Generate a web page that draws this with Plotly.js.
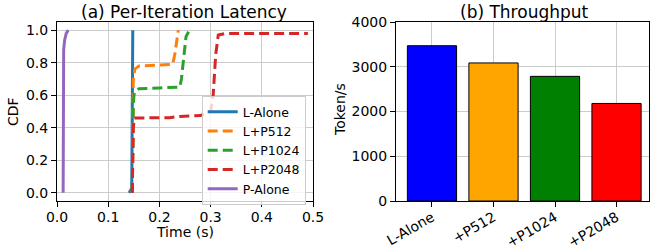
<!DOCTYPE html>
<html>
<head>
<meta charset="utf-8">
<script src="https://cdn.plot.ly/plotly-3.0.1.min.js"></script>
<style>html,body{margin:0;padding:0;background:#fff;}#chart{width:650px;height:250px;}</style>
</head>
<body>
<div id="chart"></div>
<script>
// CDF series (latency in seconds, cumulative fraction)
const seriesNames = ["L-Alone", "L+P512", "L+P1024", "L+P2048", "P-Alone"];
const lAloneX = [0.141, 0.146, 0.147, 0.1475, 0.148];
const lAloneY = [0.0, 0.03, 0.5, 0.97, 1.0];
const lp512X = [0.147, 0.148, 0.149, 0.152, 0.16, 0.2, 0.226, 0.23, 0.234, 0.237];
const lp512Y = [0.0, 0.4, 0.7, 0.76, 0.78, 0.785, 0.79, 0.85, 0.95, 1.0];
const lp1024X = [0.147, 0.148, 0.149, 0.151, 0.16, 0.2, 0.24, 0.243, 0.248, 0.252, 0.257];
const lp1024Y = [0.0, 0.3, 0.55, 0.62, 0.64, 0.645, 0.65, 0.7, 0.85, 0.96, 0.99];
const lp2048X = [0.147, 0.148, 0.149, 0.151, 0.2, 0.22, 0.24, 0.28, 0.3, 0.305, 0.31, 0.315, 0.33, 0.4, 0.49];
const lp2048Y = [0.0, 0.2, 0.4, 0.46, 0.46, 0.462, 0.47, 0.475, 0.5, 0.6, 0.85, 0.97, 0.98, 0.98, 0.98];
const pAloneX = [0.012, 0.012, 0.013, 0.015, 0.018, 0.022];
const pAloneY = [0.0, 0.6, 0.88, 0.94, 0.98, 1.0];

// Throughput bars
const barCategories = ["L-Alone", "+P512", "+P1024", "+P2048"];
const barValues = [3470, 3085, 2785, 2180];
const barColors = ["blue", "orange", "green", "red"];

const lineColors = ["#1f77b4", "#ff7f0e", "#2ca02c", "#d62728", "#9467bd"];
const xs = [lAloneX, lp512X, lp1024X, lp2048X, pAloneX];
const ys = [lAloneY, lp512Y, lp1024Y, lp2048Y, pAloneY];
const dashes = ["solid", "10px,5px", "10px,5px", "10px,5px", "solid"];

const traces = seriesNames.map((n, i) => ({
  type: "scatter", mode: "lines", name: n, x: xs[i], y: ys[i],
  xaxis: "x", yaxis: "y",
  line: {color: lineColors[i], width: 3, dash: dashes[i]}
}));
traces.push({
  type: "bar", x: barCategories, y: barValues, xaxis: "x2", yaxis: "y2",
  width: 0.8, showlegend: false,
  marker: {color: barColors, line: {color: "black", width: 1}}
});

const ax = {
  showline: true, linecolor: "black", linewidth: 1, mirror: true,
  ticks: "outside", ticklen: 5, tickwidth: 1, tickcolor: "black",
  showgrid: true, gridcolor: "#cccccc", gridwidth: 1, zeroline: false,
  tickfont: {size: 14, color: "black"}
};

const layout = {
  width: 650, height: 250,
  margin: {l: 0, r: 0, t: 22, b: 49},
  paper_bgcolor: "white", plot_bgcolor: "white",
  font: {family: "DejaVu Sans", size: 14, color: "black"},
  showlegend: true,
  legend: {
    x: 201.7/650, y: (201-96)/179, xanchor: "left", yanchor: "top",
    bgcolor: "rgba(255,255,255,0.8)", bordercolor: "#cccccc", borderwidth: 1,
    font: {size: 12.5, color: "black"}, itemwidth: 30
  },
  xaxis: Object.assign({}, ax, {domain: [57/650, 313/650], range: [0, 0.5], dtick: 0.1, tickformat: ".1f", anchor: "y", ticklabelstandoff: -2}),
  yaxis: Object.assign({}, ax, {domain: [0, 1], range: [-0.05, 1.05], tick0: 0, dtick: 0.2, tickformat: ".1f", anchor: "x"}),
  xaxis2: Object.assign({}, ax, {domain: [396/650, 649/650], range: [-0.585, 3.528], tickangle: -30, anchor: "y2", ticklabelstandoff: -3}),
  yaxis2: Object.assign({}, ax, {domain: [0, 1], range: [0, 4000], dtick: 1000, tickformat: "d", anchor: "x2"}),
  annotations: [
    {text: "(a) Per-Iteration Latency", xref: "paper", yref: "paper", x: 184/650, y: (201-12)/179, xanchor: "center", yanchor: "middle", showarrow: false, font: {size: 17}},
    {text: "(b) Throughput", xref: "paper", yref: "paper", x: 524/650, y: (201-12)/179, xanchor: "center", yanchor: "middle", showarrow: false, font: {size: 17}},
    {text: "Time (s)", xref: "paper", yref: "paper", x: 185/650, y: (201-232)/179, xanchor: "center", yanchor: "middle", showarrow: false, font: {size: 14}},
    {text: "CDF", xref: "paper", yref: "paper", x: 13/650, y: (201-112)/179, xanchor: "center", yanchor: "middle", textangle: -90, showarrow: false, font: {size: 14}},
    {text: "Token/s", xref: "paper", yref: "paper", x: 340/650, y: (201-110)/179, xanchor: "center", yanchor: "middle", textangle: -90, showarrow: false, font: {size: 14}}
  ]
};

Plotly.newPlot("chart", traces, layout, {staticPlot: true, displayModeBar: false});
</script>
</body>
</html>
